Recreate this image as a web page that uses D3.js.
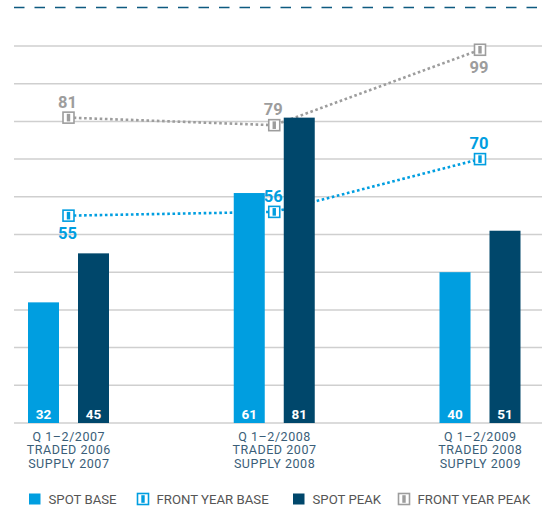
<!DOCTYPE html>
<html>
<head>
<meta charset="utf-8">
<script src="https://cdn.jsdelivr.net/npm/d3@7"></script>
<style>
  html, body { margin: 0; padding: 0; background: #fff; }
  svg { display: block; font-family: Roboto, "Noto Sans", sans-serif; }
</style>
</head>
<body>
<svg id="chart" width="542" height="507"></svg>
<script>
// ---- data ----
const categories = ["Q 1–2/2007", "Q 1–2/2008", "Q 1–2/2009"];
const tradedLabels = ["TRADED 2006", "TRADED 2007", "TRADED 2008"];
const supplyLabels = ["SUPPLY 2007", "SUPPLY 2008", "SUPPLY 2009"];
const spotBase = [32, 61, 40];
const spotPeak = [45, 81, 51];
const frontYearBase = [55, 56, 70];
const frontYearPeak = [81, 79, 99];
const yTicks = [0, 10, 20, 30, 40, 50, 60, 70, 80, 90, 100];
const seriesNames = ["SPOT BASE", "FRONT YEAR BASE", "SPOT PEAK", "FRONT YEAR PEAK"];

// ---- styles ----
const C = {
  base: "#009ee0",
  peak: "#00476b",
  grey: "#9d9d9d",
  grid: "#cfcfcf",
  dash: "#0d5a80",
  cat: "#3a5e78",
  legend: "#555555"
};
const labelSideBase = ["below", "above", "above"];
const labelSidePeak = ["above", "above", "below"];

const svg = d3.select("#chart");

const y = d3.scaleLinear().domain([0, 100]).range([423, 46]);
const x = d3.scalePoint().domain(categories).range([68.5, 480]);
const xs = d3.scaleBand().domain(["base", "peak"]).range([-40.5, 40.5]).paddingInner(0.38).paddingOuter(0);

// top dashed line
svg.append("line")
  .attr("x1", 14).attr("x2", 542).attr("y1", 7.5).attr("y2", 7.5)
  .attr("stroke", C.dash).attr("stroke-width", 1.5)
  .attr("stroke-dasharray", "10.5,10");

// gridlines
svg.append("g").selectAll("line").data(yTicks).join("line")
  .attr("x1", 14).attr("x2", 542)
  .attr("y1", d => y(d)).attr("y2", d => y(d))
  .attr("stroke", C.grid).attr("stroke-width", 1.5);

// lines
const line = d3.line().x((d, i) => x(categories[i])).y(d => y(d));
svg.append("path").datum(frontYearPeak)
  .attr("d", line).attr("fill", "none")
  .attr("stroke", C.grey).attr("stroke-width", 2.6).attr("stroke-dasharray", "2.6,2.6");
svg.append("path").datum(frontYearBase)
  .attr("d", line).attr("fill", "none")
  .attr("stroke", C.base).attr("stroke-width", 2.6).attr("stroke-dasharray", "2.6,2.6");

// bars
const barData = [];
categories.forEach((c, i) => {
  barData.push({ c, k: "base", v: spotBase[i] });
  barData.push({ c, k: "peak", v: spotPeak[i] });
});
svg.append("g").selectAll("rect").data(barData).join("rect")
  .attr("x", d => x(d.c) + xs(d.k))
  .attr("width", xs.bandwidth())
  .attr("y", d => y(d.v))
  .attr("height", d => y(0) - y(d.v))
  .attr("fill", d => d.k === "base" ? C.base : C.peak);

svg.append("g").selectAll("text").data(barData).join("text")
  .attr("x", d => x(d.c) + xs(d.k) + xs.bandwidth() / 2)
  .attr("y", 418.5)
  .attr("text-anchor", "middle")
  .attr("fill", "#fff")
  .attr("font-size", 13.5).attr("font-weight", 700)
  .text(d => d.v);

// markers
function marker(g, cx, cy, color) {
  g.append("rect").attr("x", cx - 5.5).attr("y", cy - 5.5).attr("width", 11).attr("height", 11)
    .attr("fill", "#fff").attr("stroke", color).attr("stroke-width", 1.6);
  g.append("rect").attr("x", cx - 1.7).attr("y", cy - 3.8).attr("width", 3.4).attr("height", 7.6)
    .attr("fill", color);
}
function drawPoints(values, color, sides) {
  const g = svg.append("g");
  values.forEach((v, i) => {
    const cx = x(categories[i]), cy = y(v);
    marker(g, cx, cy, color);
    g.append("text")
      .attr("x", cx - 1).attr("y", sides[i] === "above" ? cy - 10 : cy + 23.5)
      .attr("text-anchor", "middle")
      .attr("fill", color).attr("font-size", 16.5).attr("font-weight", 700)
      .text(v);
  });
}
drawPoints(frontYearPeak, C.grey, labelSidePeak);
drawPoints(frontYearBase, C.base, labelSideBase);

// category labels
const cg = svg.append("g").attr("fill", C.cat).attr("font-size", 12.5)
  .attr("letter-spacing", 0.55).attr("text-anchor", "middle");
categories.forEach((c, i) => {
  [c, tradedLabels[i], supplyLabels[i]].forEach((s, j) => {
    cg.append("text").attr("x", x(c) + 0.3).attr("y", 440.5 + j * 13.5).text(s);
  });
});

// legend
const legendX = [29, 137, 293, 398];
const lg = svg.append("g");
seriesNames.forEach((name, i) => {
  const lx = legendX[i], ly = 499;
  if (i === 0 || i === 2) {
    lg.append("rect").attr("x", lx).attr("y", ly - 5.5).attr("width", 11.5).attr("height", 11)
      .attr("fill", i === 0 ? C.base : C.peak);
  } else {
    marker(lg, lx + 6, ly, i === 1 ? C.base : C.grey);
  }
  lg.append("text").attr("x", lx + 19.5).attr("y", ly + 4.7)
    .attr("fill", C.legend).attr("font-size", 13.2).text(name);
});
</script>
</body>
</html>
